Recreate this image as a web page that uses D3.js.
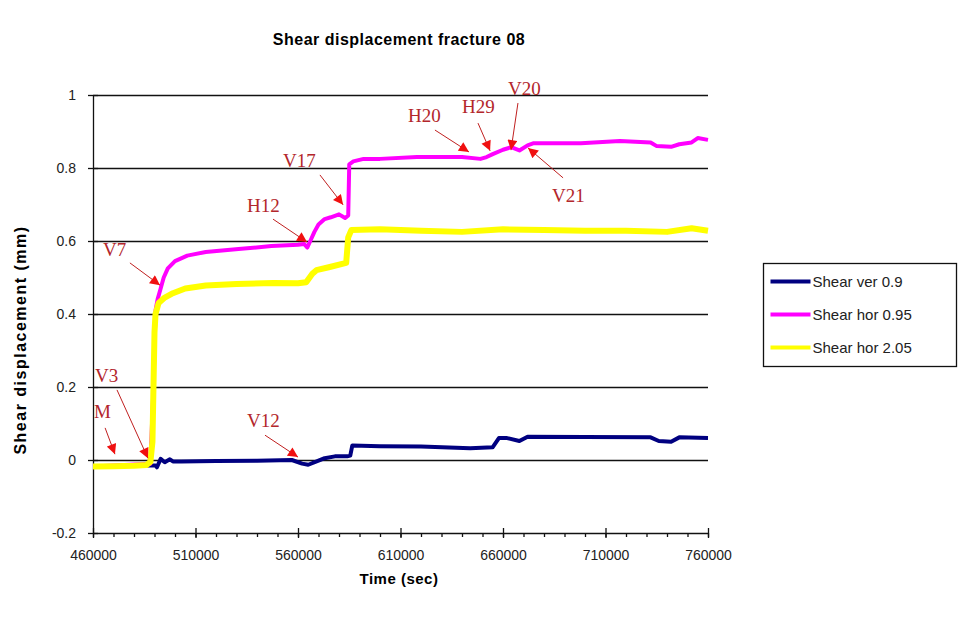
<!DOCTYPE html>
<html>
<head>
<meta charset="utf-8">
<script src="https://cdn.jsdelivr.net/npm/d3@7"></script>
<style>
  body { margin: 0; background: #fff; }
  text { font-family: Arial, "Liberation Sans", sans-serif; }
</style>
</head>
<body>
<svg id="main-chart"></svg>
<script>
// series: Shear ver 0.9
const timeVer09 = [460000, 488000, 490500, 491200, 493000, 495000, 497500, 499000, 503000, 520000, 540000, 557000, 562000, 565000, 570000, 573000, 578000, 584000, 585500, 586500, 600000, 620000, 644000, 655000, 658000, 662000, 668000, 672000, 700000, 732000, 736000, 742000, 746000, 760000];
const ver09 = [-0.018, -0.015, -0.015, -0.02, 0.003, -0.006, 0.002, -0.004, -0.004, -0.003, -0.002, 0, -0.01, -0.013, -0.002, 0.005, 0.01, 0.01, 0.012, 0.04, 0.038, 0.037, 0.032, 0.035, 0.06, 0.06, 0.052, 0.064, 0.063, 0.062, 0.052, 0.05, 0.062, 0.06];

// series: Shear hor 0.95
const timeHor095 = [460000, 488000, 489500, 490500, 491500, 493000, 494500, 496500, 500000, 506000, 515000, 531000, 547000, 560000, 563000, 564500, 566000, 568000, 570000, 573000, 576000, 580000, 583000, 584500, 585000, 587000, 592000, 600000, 618000, 640000, 649000, 652000, 655000, 660000, 664000, 668000, 672000, 675000, 698000, 717000, 732000, 735000, 742000, 746000, 752000, 755000, 760000];
const hor095 = [-0.018, -0.01, 0.2, 0.41, 0.44, 0.47, 0.5, 0.525, 0.545, 0.56, 0.57, 0.578, 0.586, 0.59, 0.592, 0.582, 0.6, 0.625, 0.645, 0.66, 0.665, 0.673, 0.663, 0.67, 0.81, 0.818, 0.825, 0.825, 0.83, 0.83, 0.825, 0.83, 0.838, 0.85, 0.857, 0.848, 0.862, 0.868, 0.868, 0.874, 0.87, 0.86, 0.858, 0.865, 0.87, 0.882, 0.877];

// series: Shear hor 2.05
const timeHor205 = [460000, 470000, 480000, 486000, 488000, 489000, 489500, 490000, 490500, 492000, 495000, 499000, 505000, 515000, 530000, 548000, 560000, 564000, 567000, 569000, 575000, 583500, 584500, 586000, 600000, 620000, 640000, 660000, 680000, 700000, 720000, 740000, 752000, 760000];
const hor205 = [-0.018, -0.017, -0.016, -0.014, -0.005, 0.05, 0.2, 0.35, 0.4, 0.43, 0.445, 0.457, 0.47, 0.478, 0.482, 0.485, 0.484, 0.487, 0.51, 0.52, 0.528, 0.54, 0.61, 0.63, 0.632, 0.628, 0.625, 0.632, 0.63, 0.628, 0.628, 0.625, 0.635, 0.628];

const seriesNames = ["Shear ver 0.9", "Shear hor 0.95", "Shear hor 2.05"];
const seriesColors = ["#000080", "#ff00ff", "#ffff00"];

const xTicks = [460000, 510000, 560000, 610000, 660000, 710000, 760000];
const yTicks = [-0.2, 0, 0.2, 0.4, 0.6, 0.8, 1];

// annotations: label, label pos (time, value), arrow start, arrow tip
const annoLabels = ["V7", "V3", "M", "V12", "H12", "V17", "H20", "H29", "V20", "V21"];
const annoTextAt = [[464900, 0.559], [461000, 0.214], [460500, 0.115], [535100, 0.09], [535100, 0.679], [552700, 0.803], [613700, 0.926], [640000, 0.951], [662400, 1.0], [683900, 0.707]];
const annoFrom = [[478000, 0.540], [471700, 0.192], [465900, 0.088], [543900, 0.068], [547800, 0.660], [570700, 0.781], [626800, 0.904], [647800, 0.923], [667300, 0.978], [689300, 0.773]];
const annoTo = [[492700, 0.479], [486800, 0.005], [470700, 0.016], [560000, 0.008], [564400, 0.597], [582000, 0.699], [643400, 0.844], [653700, 0.847], [663900, 0.849], [672200, 0.855]];

const width = 958;
const height = 617;
const margin = ({top: 95, right: 250, bottom: 84, left: 93});

const svg = d3.select("#main-chart")
  .attr("width", width)
  .attr("height", height);

const x = d3.scaleLinear()
  .domain([460000, 760000])
  .range([margin.left, width - margin.right]);
const y = d3.scaleLinear()
  .domain([-0.2, 1])
  .range([height - margin.bottom, margin.top]);

// gridlines
svg.append("g")
  .selectAll("line")
  .data(yTicks.filter(d => d > -0.2))
  .join("line")
  .attr("x1", x(460000)).attr("x2", x(760000))
  .attr("y1", d => Math.round(y(d)) + 0.5).attr("y2", d => Math.round(y(d)) + 0.5)
  .attr("stroke", "#111").attr("stroke-width", 1.4);

// x axis: minor ticks then major
const xAxisG = svg.append("g")
  .attr("transform", `translate(0,${y(-0.2)})`);
xAxisG.append("g")
  .call(d3.axisBottom(x).tickValues(d3.range(460000, 760001, 10000)).tickSize(4).tickFormat(""))
  .call(g => g.select(".domain").remove());
xAxisG.append("g")
  .call(d3.axisBottom(x).tickValues(xTicks).tickSizeInner(5).tickSizeOuter(0).tickFormat(d3.format("d")).tickPadding(12))
  .call(g => g.selectAll(".tick line").attr("y1", -5));
xAxisG.selectAll("line, path").attr("stroke", "#111").attr("stroke-width", 1.3);
xAxisG.selectAll("text").attr("font-size", 14).attr("fill", "#222");

const yAxisG = svg.append("g")
  .attr("transform", `translate(${x(460000)},0)`)
  .call(d3.axisLeft(y).tickValues(yTicks).tickSizeInner(5).tickSizeOuter(0)
    .tickFormat(d => d3.format("~g")(d).replace("\u2212", "-")).tickPadding(12))
  .call(g => g.selectAll(".tick line").attr("x1", 5));
yAxisG.selectAll("line, path").attr("stroke", "#111").attr("stroke-width", 1.3);
yAxisG.selectAll("text").attr("font-size", 14).attr("fill", "#222");

// lines
const seriesData = [
  d3.zip(timeVer09, ver09),
  d3.zip(timeHor095, hor095),
  d3.zip(timeHor205, hor205)
];
const strokeW = [4, 4, 6];
const line = d3.line().x(d => x(d[0])).y(d => y(d[1]));
svg.append("g")
  .selectAll("path")
  .data(seriesData)
  .join("path")
  .attr("d", line)
  .attr("fill", "none")
  .attr("stroke", (d, i) => seriesColors[i])
  .attr("stroke-width", (d, i) => strokeW[i])
  .attr("stroke-linejoin", "round");

// arrows
svg.append("defs").append("marker")
  .attr("id", "head")
  .attr("viewBox", "0 0 10 10")
  .attr("refX", 10).attr("refY", 5)
  .attr("markerWidth", 12).attr("markerHeight", 10)
  .attr("markerUnits", "userSpaceOnUse")
  .attr("orient", "auto")
  .append("path")
  .attr("d", "M0,0L10,5L0,10z")
  .attr("fill", "#f01010");

const annoG = svg.append("g");
annoG.selectAll("line")
  .data(annoLabels)
  .join("line")
  .attr("x1", (d, i) => x(annoFrom[i][0]))
  .attr("y1", (d, i) => y(annoFrom[i][1]))
  .attr("x2", (d, i) => x(annoTo[i][0]))
  .attr("y2", (d, i) => y(annoTo[i][1]))
  .attr("stroke", "#c02020")
  .attr("stroke-width", 1)
  .attr("marker-end", "url(#head)");
annoG.selectAll("text")
  .data(annoLabels)
  .join("text")
  .attr("x", (d, i) => x(annoTextAt[i][0]))
  .attr("y", (d, i) => y(annoTextAt[i][1]))
  .attr("fill", "#b3262b")
  .attr("font-size", 19)
  .style("font-family", "'Liberation Serif', 'Times New Roman', serif")
  .text(d => d);

// titles
svg.append("text")
  .attr("x", 399).attr("y", 45)
  .attr("text-anchor", "middle")
  .attr("font-size", 16).attr("font-weight", "bold")
  .attr("letter-spacing", 0.5)
  .text("Shear displacement fracture 08");
svg.append("text")
  .attr("x", 399).attr("y", 584)
  .attr("text-anchor", "middle")
  .attr("font-size", 15).attr("font-weight", "bold")
  .attr("letter-spacing", 0.5)
  .text("Time (sec)");
svg.append("text")
  .attr("transform", "translate(26,340) rotate(-90)")
  .attr("text-anchor", "middle")
  .attr("font-size", 16).attr("font-weight", "bold")
  .attr("letter-spacing", 1.5)
  .text("Shear displacement (mm)");

// legend
const legend = svg.append("g").attr("transform", "translate(763.5,263.5)");
legend.append("rect")
  .attr("width", 193).attr("height", 103)
  .attr("fill", "#fff").attr("stroke", "#111").attr("stroke-width", 1.3);
const item = legend.selectAll(".item")
  .data(seriesNames)
  .join("g")
  .attr("class", "item")
  .attr("transform", (d, i) => `translate(0,${18 + i * 33})`);
item.append("line")
  .attr("x1", 7).attr("x2", 47)
  .attr("stroke", (d, i) => seriesColors[i])
  .attr("stroke-width", 4);
item.append("text")
  .attr("x", 49).attr("y", 5)
  .attr("font-size", 15).attr("fill", "#222")
  .text(d => d);
</script>
</body>
</html>
